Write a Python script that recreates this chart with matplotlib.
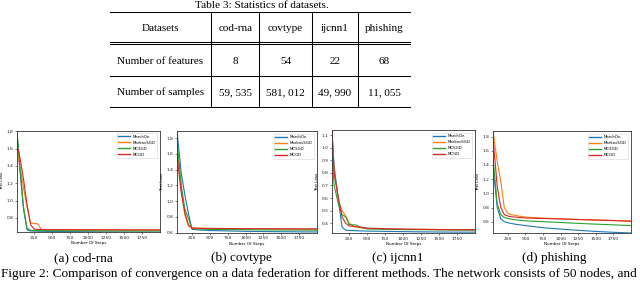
import matplotlib
matplotlib.use('Agg')
import matplotlib.pyplot as plt

# ---------------- data ----------------
steps = [10, 40, 100, 150, 200, 250, 300, 350, 400, 500, 750, 1000, 1250, 1500, 1750, 2000]
methods = ['MarchOn', 'MarkovSGD', 'MCSGD', 'MCGD']
colors = ['#1f77b4', '#ff7f0e', '#2ca02c', '#d62728']

codrna_marchon = [1.78, 1.45, 0.90, 0.66, 0.648, 0.647, 0.646, 0.645, 0.644, 0.643, 0.641, 0.639, 0.637, 0.636, 0.635, 0.634]
codrna_markov = [1.66, 1.45, 1.15, 0.92, 0.74, 0.735, 0.73, 0.665, 0.664, 0.663, 0.662, 0.661, 0.661, 0.66, 0.66, 0.66]
codrna_mcsgd = [1.80, 1.50, 0.93, 0.68, 0.655, 0.654, 0.653, 0.652, 0.652, 0.651, 0.650, 0.650, 0.649, 0.649, 0.648, 0.648]
codrna_mcgd = [1.62, 1.55, 1.25, 0.95, 0.72, 0.668, 0.667, 0.666, 0.665, 0.664, 0.663, 0.662, 0.662, 0.661, 0.661, 0.66]

covtype_marchon = [2.00, 1.89, 1.35, 1.08, 0.84, 0.64, 0.635, 0.632, 0.63, 0.625, 0.62, 0.615, 0.612, 0.61, 0.608, 0.607]
covtype_markov = [1.75, 1.69, 1.15, 0.82, 0.68, 0.66, 0.658, 0.656, 0.655, 0.653, 0.65, 0.648, 0.646, 0.645, 0.645, 0.644]
covtype_mcsgd = [1.80, 1.78, 1.20, 0.90, 0.78, 0.65, 0.645, 0.643, 0.642, 0.64, 0.637, 0.635, 0.633, 0.632, 0.631, 0.63]
covtype_mcgd = [1.60, 1.57, 1.10, 0.85, 0.70, 0.655, 0.654, 0.653, 0.652, 0.651, 0.65, 0.649, 0.648, 0.647, 0.646, 0.645]

ijcnn1_marchon = [1.10, 0.85, 0.58, 0.37, 0.345, 0.343, 0.342, 0.341, 0.34, 0.338, 0.336, 0.334, 0.332, 0.331, 0.33, 0.33]
ijcnn1_markov = [1.12, 0.80, 0.58, 0.50, 0.46, 0.40, 0.38, 0.37, 0.365, 0.358, 0.355, 0.353, 0.352, 0.351, 0.35, 0.35]
ijcnn1_mcsgd = [0.92, 0.70, 0.55, 0.47, 0.45, 0.39, 0.388, 0.386, 0.37, 0.355, 0.352, 0.35, 0.349, 0.348, 0.347, 0.346]
ijcnn1_mcgd = [1.14, 0.80, 0.60, 0.45, 0.40, 0.38, 0.375, 0.372, 0.37, 0.362, 0.357, 0.354, 0.352, 0.35, 0.349, 0.348]

phishing_marchon = [1.42, 1.38, 0.80, 0.64, 0.60, 0.585, 0.575, 0.565, 0.558, 0.545, 0.515, 0.495, 0.478, 0.462, 0.45, 0.44]
phishing_markov = [1.95, 1.88, 1.45, 1.17, 0.80, 0.72, 0.70, 0.69, 0.68, 0.665, 0.65, 0.64, 0.632, 0.625, 0.617, 0.61]
phishing_mcsgd = [1.55, 1.50, 0.85, 0.70, 0.66, 0.645, 0.635, 0.628, 0.622, 0.612, 0.60, 0.588, 0.576, 0.565, 0.555, 0.545]
phishing_mcgd = [1.80, 1.78, 1.10, 0.80, 0.70, 0.68, 0.67, 0.665, 0.66, 0.652, 0.645, 0.638, 0.63, 0.622, 0.615, 0.605]

datasets = ['cod-rna', 'covtype', 'ijcnn1', 'phishing']
num_features = [8, 54, 22, 68]
num_samples = [59535, 581012, 49990, 11055]
sub_labels = ['(a)', '(b)', '(c)', '(d)']
yticks = [[0.8, 1.0, 1.2, 1.4, 1.6, 1.8],
          [0.6, 0.8, 1.0, 1.2, 1.4, 1.6, 1.8],
          [0.4, 0.5, 0.6, 0.7, 0.8, 0.9, 1.0, 1.1],
          [0.6, 0.8, 1.0, 1.2, 1.4, 1.6, 1.8]]
xticks = [250, 500, 750, 1000, 1250, 1500, 1750]

series = [
    [codrna_marchon, codrna_markov, codrna_mcsgd, codrna_mcgd],
    [covtype_marchon, covtype_markov, covtype_mcsgd, covtype_mcgd],
    [ijcnn1_marchon, ijcnn1_markov, ijcnn1_mcsgd, ijcnn1_mcgd],
    [phishing_marchon, phishing_markov, phishing_mcsgd, phishing_mcgd],
]

# ---------------- layout ----------------
W, H = 640, 281
fig = plt.figure(figsize=(W / 100, H / 100), dpi=100)
serif = ['Liberation Serif', 'DejaVu Serif']

bg = fig.add_axes([0, 0, 1, 1])
bg.set_xlim(0, W)
bg.set_ylim(H, 0)
bg.axis('off')

# table
bg.text(262, 6, 'Table 3: Statistics of datasets.', ha='center', va='center',
        family=serif, fontsize=8.1)
tl, tr = 110, 410
for y in [12.3, 41.6, 44.4, 75.7, 106.7]:
    bg.plot([tl, tr], [y, y], color='black', lw=0.75)
vx = [tl, 211, 259.3, 311.7, 358.3, tr]
for x in vx[1:-1]:
    bg.plot([x, x], [12.3, 106.7], color='black', lw=0.75)
centers = [(vx[i] + vx[i + 1]) / 2 for i in range(5)]
rows = [['Datasets'] + datasets,
        ['Number of features'] + [str(v) for v in num_features],
        ['Number of samples'] + [f'{v:,}'.replace(',', ', ') for v in num_samples]]
for ry, row in zip([28.5, 61.5, 92.5], rows):
    for cx, txt in zip(centers, row):
        bg.text(cx, ry, txt, ha='center', va='center', family=serif, fontsize=8.0)

# subplots
boxes = [(17, 160, 130.5, 232.3), (177, 317, 131, 232.5), (332, 475, 130, 233), (493, 631, 131, 233)]
xlims = [(10, 2000), (40, 2000), (10, 2000), (40, 2000)]
ylims = [(0.633, 1.81), (0.6, 1.89), (0.323, 1.14), (0.44, 1.88)]
cap_x = [83.5, 241, 397.5, 554]

for i in range(4):
    l, r, t, b = boxes[i]
    ax = fig.add_axes([l / W, (H - b) / H, (r - l) / W, (b - t) / H])
    for j in range(4):
        ax.plot(steps, series[i][j], color=colors[j], lw=0.8, label=methods[j])
    ax.set_xlim(*xlims[i])
    ax.set_ylim(*ylims[i])
    ax.set_xticks(xticks)
    ax.set_yticks(yticks[i])
    ax.set_yticklabels([f'{v:.1f}' for v in yticks[i]])
    ax.tick_params(labelsize=3.2, length=1.5, width=0.4, pad=1.2, colors='#222222')
    for s in ax.spines.values():
        s.set_linewidth(0.6)
        s.set_color('#333333')
    ax.set_xlabel('Number Of Steps', fontsize=3.0, labelpad=1.0)
    ax.set_ylabel('Test Loss', fontsize=3.0, labelpad=1.5)
    leg = ax.legend(loc='upper right', fontsize=2.8, handlelength=3.0, borderpad=0.4,
                    labelspacing=0.5, handletextpad=0.8, borderaxespad=0.7, frameon=True)
    leg.get_frame().set_linewidth(0.4)
    for ln in leg.get_lines():
        ln.set_linewidth(1.0)
    bg.text(cap_x[i], 258, f'{sub_labels[i]} {datasets[i]}', ha='center', va='center',
            family=serif, fontsize=9.5)

bg.text(319, 274.5, 'Figure 2: Comparison of convergence on a data federation for different methods. '
        'The network consists of 50 nodes, and', ha='center', va='center', family=serif, fontsize=9.55)

fig.savefig('out.png', dpi=100)
